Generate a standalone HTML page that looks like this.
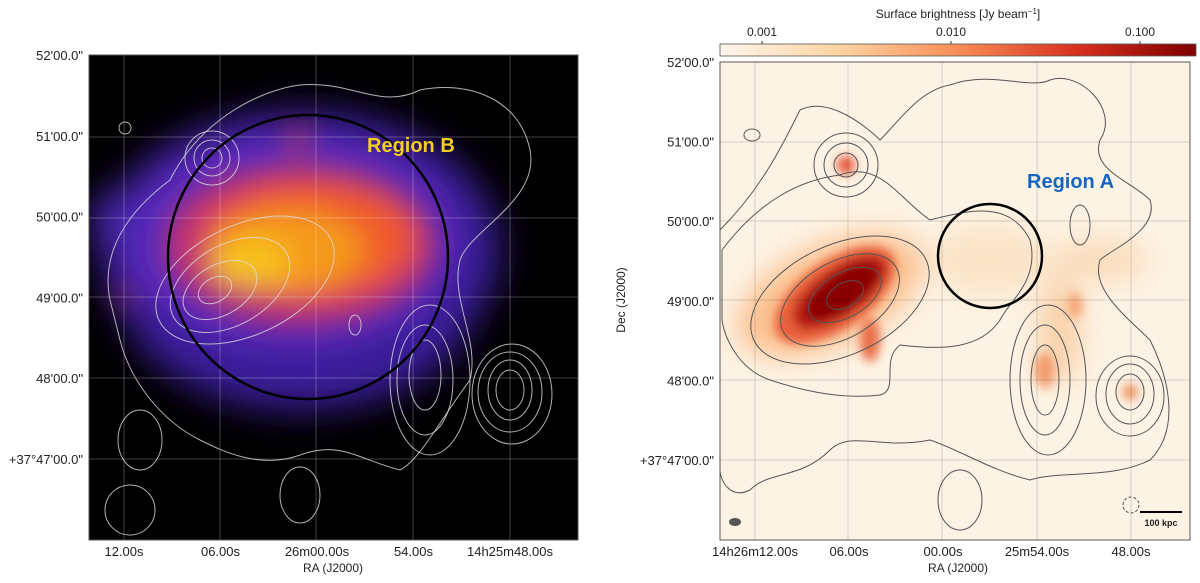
<!DOCTYPE html>
<html><head><meta charset="utf-8">
<style>
body{margin:0;background:#fff;width:1200px;height:578px;overflow:hidden;font-family:"Liberation Sans","DejaVu Sans",sans-serif}
svg text{font-family:"Liberation Sans","DejaVu Sans",sans-serif;fill:#222}
</style></head>
<body>
<svg id="fig" width="1200" height="578" viewBox="0 0 1200 578" xmlns="http://www.w3.org/2000/svg">
<defs>
<filter id="b8" x="-50%" y="-50%" width="200%" height="200%"><feGaussianBlur stdDeviation="8"/></filter>
<filter id="b5" x="-50%" y="-50%" width="200%" height="200%"><feGaussianBlur stdDeviation="5"/></filter>
<filter id="b14" x="-50%" y="-50%" width="200%" height="200%"><feGaussianBlur stdDeviation="14"/></filter>
<filter id="b20" x="-50%" y="-50%" width="200%" height="200%"><feGaussianBlur stdDeviation="18"/></filter>
<linearGradient id="cbar" x1="0" x2="1">
<stop offset="0" stop-color="#fff5eb"/><stop offset="0.25" stop-color="#fdd3a2"/>
<stop offset="0.5" stop-color="#f88d56"/><stop offset="0.75" stop-color="#d7301f"/>
<stop offset="1" stop-color="#7f0000"/></linearGradient>
<clipPath id="cl"><rect x="89" y="55" width="489" height="485"/></clipPath>
<clipPath id="cr"><rect x="720" y="62" width="470" height="478"/></clipPath>
</defs>

<!-- LEFT PANEL -->
<g clip-path="url(#cl)">
<rect x="89" y="55" width="489" height="485" fill="#000"/>
<g filter="url(#b20)">
<ellipse cx="300" cy="250" rx="200" ry="140" fill="#3a1c9a"/>
<ellipse cx="300" cy="290" rx="180" ry="120" fill="#3a1c9a"/>
<ellipse cx="290" cy="240" rx="165" ry="105" fill="#5a2bc0"/>
<ellipse cx="120" cy="220" rx="30" ry="30" fill="#4a25b0"/>
</g>
<g filter="url(#b14)">
<ellipse cx="300" cy="245" rx="135" ry="80" fill="#c4306e"/>
<ellipse cx="310" cy="240" rx="105" ry="58" fill="#f05a2a"/>
<ellipse cx="290" cy="250" rx="75" ry="40" fill="#f59a1a"/>
<ellipse cx="250" cy="262" rx="40" ry="25" fill="#f6c21e"/>
<ellipse cx="298" cy="140" rx="10" ry="10" fill="#e04020"/>
<ellipse cx="125" cy="297" rx="8" ry="8" fill="#c03060"/>
</g>
<g stroke="#fff" stroke-opacity="0.25" stroke-width="1">
<line x1="124" y1="55" x2="124" y2="540"/><line x1="220" y1="55" x2="220" y2="540"/><line x1="316" y1="55" x2="316" y2="540"/><line x1="413" y1="55" x2="413" y2="540"/><line x1="510" y1="55" x2="510" y2="540"/>
<line x1="89" y1="137" x2="578" y2="137"/><line x1="89" y1="218" x2="578" y2="218"/><line x1="89" y1="297" x2="578" y2="297"/><line x1="89" y1="378" x2="578" y2="378"/><line x1="89" y1="459" x2="578" y2="459"/>
</g>
<g fill="none" stroke="#ddd" stroke-width="1" stroke-opacity="0.8">
<circle cx="212" cy="158" r="10"/><circle cx="212" cy="158" r="18"/><circle cx="212" cy="158" r="27"/>
<ellipse cx="510" cy="390" rx="14" ry="20"/><ellipse cx="510" cy="390" rx="22" ry="30"/><ellipse cx="510" cy="392" rx="32" ry="40"/><ellipse cx="512" cy="394" rx="40" ry="50"/>
<ellipse cx="425" cy="375" rx="16" ry="35"/><ellipse cx="425" cy="380" rx="28" ry="55"/><ellipse cx="430" cy="380" rx="40" ry="75"/>
<ellipse cx="215" cy="290" rx="18" ry="12" transform="rotate(-30 215 290)"/>
<ellipse cx="220" cy="290" rx="40" ry="25" transform="rotate(-30 220 290)"/>
<ellipse cx="230" cy="285" rx="65" ry="40" transform="rotate(-30 230 285)"/>
<ellipse cx="245" cy="280" rx="95" ry="55" transform="rotate(-25 245 280)"/>
<path d="M110,300 C100,250 130,210 170,180 C200,120 260,90 300,85 C350,80 380,110 420,90 C470,80 520,100 530,150 C540,200 470,230 460,260 C450,300 480,340 470,380 C440,420 420,460 400,470 C360,460 340,440 300,455 C260,470 220,450 200,440 C160,420 130,380 120,340 Z"/>
<ellipse cx="140" cy="440" rx="22" ry="30"/><ellipse cx="300" cy="495" rx="20" ry="28"/><ellipse cx="130" cy="510" rx="25" ry="25"/>
<ellipse cx="355" cy="325" rx="6" ry="10"/><ellipse cx="125" cy="128" rx="6" ry="6"/>
</g>
<ellipse cx="308" cy="257" rx="140" ry="142" fill="none" stroke="#000" stroke-width="2.5"/>
<text x="367" y="152" font-size="20" font-weight="bold" style="fill:#f3cf1c">Region B</text>
</g>
<rect x="89" y="55" width="489" height="485" fill="none" stroke="#555" stroke-width="1"/>
<g font-size="13" text-anchor="end" id="lyt"></g>
<g font-size="13" text-anchor="middle" id="lxt"></g>
<text x="333" y="572" font-size="12" text-anchor="middle">RA (J2000)</text>

<!-- RIGHT PANEL -->
<g clip-path="url(#cr)">
<rect x="720" y="62" width="470" height="478" fill="#fdf3e5"/>
<g filter="url(#b14)">
<ellipse cx="830" cy="295" rx="100" ry="50" fill="#fbc08e" transform="rotate(-25 830 295)"/>
<ellipse cx="990" cy="260" rx="60" ry="35" fill="#fbe3c6"/>
<ellipse cx="1060" cy="330" rx="20" ry="55" fill="#f9cfa6"/>
<ellipse cx="1100" cy="260" rx="50" ry="22" fill="#fbdcbb"/>
</g>
<g filter="url(#b5)">
<ellipse cx="835" cy="295" rx="70" ry="34" fill="#e8603a" transform="rotate(-35 835 295)"/>
<ellipse cx="840" cy="292" rx="55" ry="24" fill="#b81a12" transform="rotate(-35 840 292)"/>
<ellipse cx="842" cy="292" rx="42" ry="18" fill="#8a0505" transform="rotate(-35 842 292)"/>
<ellipse cx="870" cy="340" rx="10" ry="22" fill="#e87048"/>
<circle cx="846" cy="165" r="9" fill="#e5502e"/>
<ellipse cx="1045" cy="370" rx="10" ry="18" fill="#f29a6b"/>
<ellipse cx="1130" cy="392" rx="8" ry="8" fill="#f09060"/>
<ellipse cx="1075" cy="305" rx="7" ry="13" fill="#f4a070"/>
</g>
<g stroke="#000" stroke-opacity="0.15" stroke-width="1">
<line x1="755" y1="62" x2="755" y2="540"/><line x1="848" y1="62" x2="848" y2="540"/><line x1="942" y1="62" x2="942" y2="540"/><line x1="1037" y1="62" x2="1037" y2="540"/><line x1="1131" y1="62" x2="1131" y2="540"/>
<line x1="720" y1="142" x2="1190" y2="142"/><line x1="720" y1="221" x2="1190" y2="221"/><line x1="720" y1="300" x2="1190" y2="300"/><line x1="720" y1="380" x2="1190" y2="380"/><line x1="720" y1="460" x2="1190" y2="460"/>
</g>
<g fill="none" stroke="#555" stroke-width="1">
<circle cx="846" cy="165" r="12"/><circle cx="846" cy="165" r="22"/><circle cx="846" cy="165" r="32"/>
<ellipse cx="1130" cy="392" rx="14" ry="18"/><ellipse cx="1130" cy="394" rx="24" ry="30"/><ellipse cx="1130" cy="396" rx="34" ry="40"/>
<ellipse cx="1045" cy="380" rx="14" ry="35"/><ellipse cx="1045" cy="380" rx="25" ry="55"/><ellipse cx="1048" cy="380" rx="38" ry="75"/>
<ellipse cx="845" cy="295" rx="20" ry="12" transform="rotate(-30 845 295)"/>
<ellipse cx="845" cy="295" rx="40" ry="22" transform="rotate(-30 845 295)"/>
<ellipse cx="840" cy="300" rx="65" ry="38" transform="rotate(-30 840 300)"/>
<ellipse cx="840" cy="300" rx="95" ry="55" transform="rotate(-25 840 300)"/>
<path d="M722,250 C760,200 800,180 840,175 C880,160 900,200 930,220 C970,210 1010,200 1030,240 C1040,280 1010,300 1000,320 C980,350 940,350 900,345 C880,360 900,390 880,395 C840,400 800,390 770,380 C740,370 725,340 722,320 Z"/>
<path d="M720,230 C760,190 780,150 800,110 C830,95 870,130 880,140 C900,120 920,90 950,85 C990,70 1030,90 1050,80 C1080,70 1120,110 1100,140 C1090,170 1130,180 1150,200 C1160,230 1110,250 1100,260 C1090,290 1130,320 1150,340 C1170,380 1180,430 1150,460 C1110,480 1060,470 1030,480 C990,470 960,450 930,440 C880,450 850,430 830,450 C800,480 770,470 750,490 C730,500 720,480 720,470"/>
<ellipse cx="1080" cy="225" rx="10" ry="20"/><ellipse cx="960" cy="500" rx="22" ry="30"/><ellipse cx="1131" cy="505" rx="8" ry="8" stroke-dasharray="3 2"/>
<ellipse cx="752" cy="135" rx="8" ry="6"/>
</g>
<ellipse cx="735" cy="522" rx="6" ry="4" fill="#555"/>
<line x1="1140" y1="512" x2="1182" y2="512" stroke="#000" stroke-width="2"/>
<text x="1161" y="526" font-size="9" text-anchor="middle" font-weight="bold">100 kpc</text>
<circle cx="990" cy="256" r="52" fill="none" stroke="#000" stroke-width="2.5"/>
<text x="1027" y="188" font-size="20" font-weight="bold" style="fill:#1565c0">Region A</text>
</g>
<rect x="720" y="62" width="470" height="478" fill="none" stroke="#555" stroke-width="1"/>
<rect x="720" y="44" width="476" height="12" fill="url(#cbar)" stroke="#555" stroke-width="0.8"/>
<g font-size="12" text-anchor="middle" id="cbt"></g>
<text x="958" y="18" font-size="12" text-anchor="middle">Surface brightness [Jy beam<tspan font-size="8" dy="-4">−1</tspan><tspan dy="4">]</tspan></text>
<g font-size="13" text-anchor="end" id="ryt"></g>
<g font-size="13" text-anchor="middle" id="rxt"></g>
<text x="958" y="572" font-size="12" text-anchor="middle">RA (J2000)</text>
<text x="0" y="0" font-size="12" text-anchor="middle" transform="translate(625 300) rotate(-90)">Dec (J2000)</text>
</svg>
<script>
const decLabels = ["52'00.0\"","51'00.0\"","50'00.0\"","49'00.0\"","48'00.0\"","+37°47'00.0\""];
const leftRaLabels = ["12.00s","06.00s","26m00.00s","54.00s","14h25m48.00s"];
const rightRaLabels = ["14h26m12.00s","06.00s","00.00s","25m54.00s","48.00s"];
const cbarLabels = ["0.001","0.010","0.100"];
const cbarValues = [0.001,0.01,0.1];
const NS="http://www.w3.org/2000/svg";
function txt(g,x,y,s){const t=document.createElementNS(NS,'text');t.setAttribute('x',x);t.setAttribute('y',y);t.textContent=s;g.appendChild(t);return t;}
const lyt=document.getElementById('lyt'), ryt=document.getElementById('ryt');
const lY=i=>55+i*80.8, rY=i=>62+i*79.6;
decLabels.forEach((s,i)=>{
 let t=txt(lyt,83,lY(i)+5,s);
 
 
 t=txt(ryt,714,rY(i)+5,s);
 
 
});
const lxt=document.getElementById('lxt'), rxt=document.getElementById('rxt');
leftRaLabels.forEach((s,i)=>{const t=txt(lxt,124+i*96.5,556,s);
 
 });
rightRaLabels.forEach((s,i)=>{const t=txt(rxt,755+i*94,556,s);
 
 });
const cbt=document.getElementById('cbt');
const cx=v=>762+(Math.log10(v)+3)*189;
cbarValues.forEach((v,i)=>{const t=txt(cbt,cx(v),36,cbarLabels[i]);
 
 
 const l=document.createElementNS(NS,'line');
 l.setAttribute('x1',cx(v));l.setAttribute('x2',cx(v));l.setAttribute('y1',44);l.setAttribute('y2',41);l.setAttribute('stroke','#333');
 
 
 cbt.appendChild(l);});
</script>
</body></html>
